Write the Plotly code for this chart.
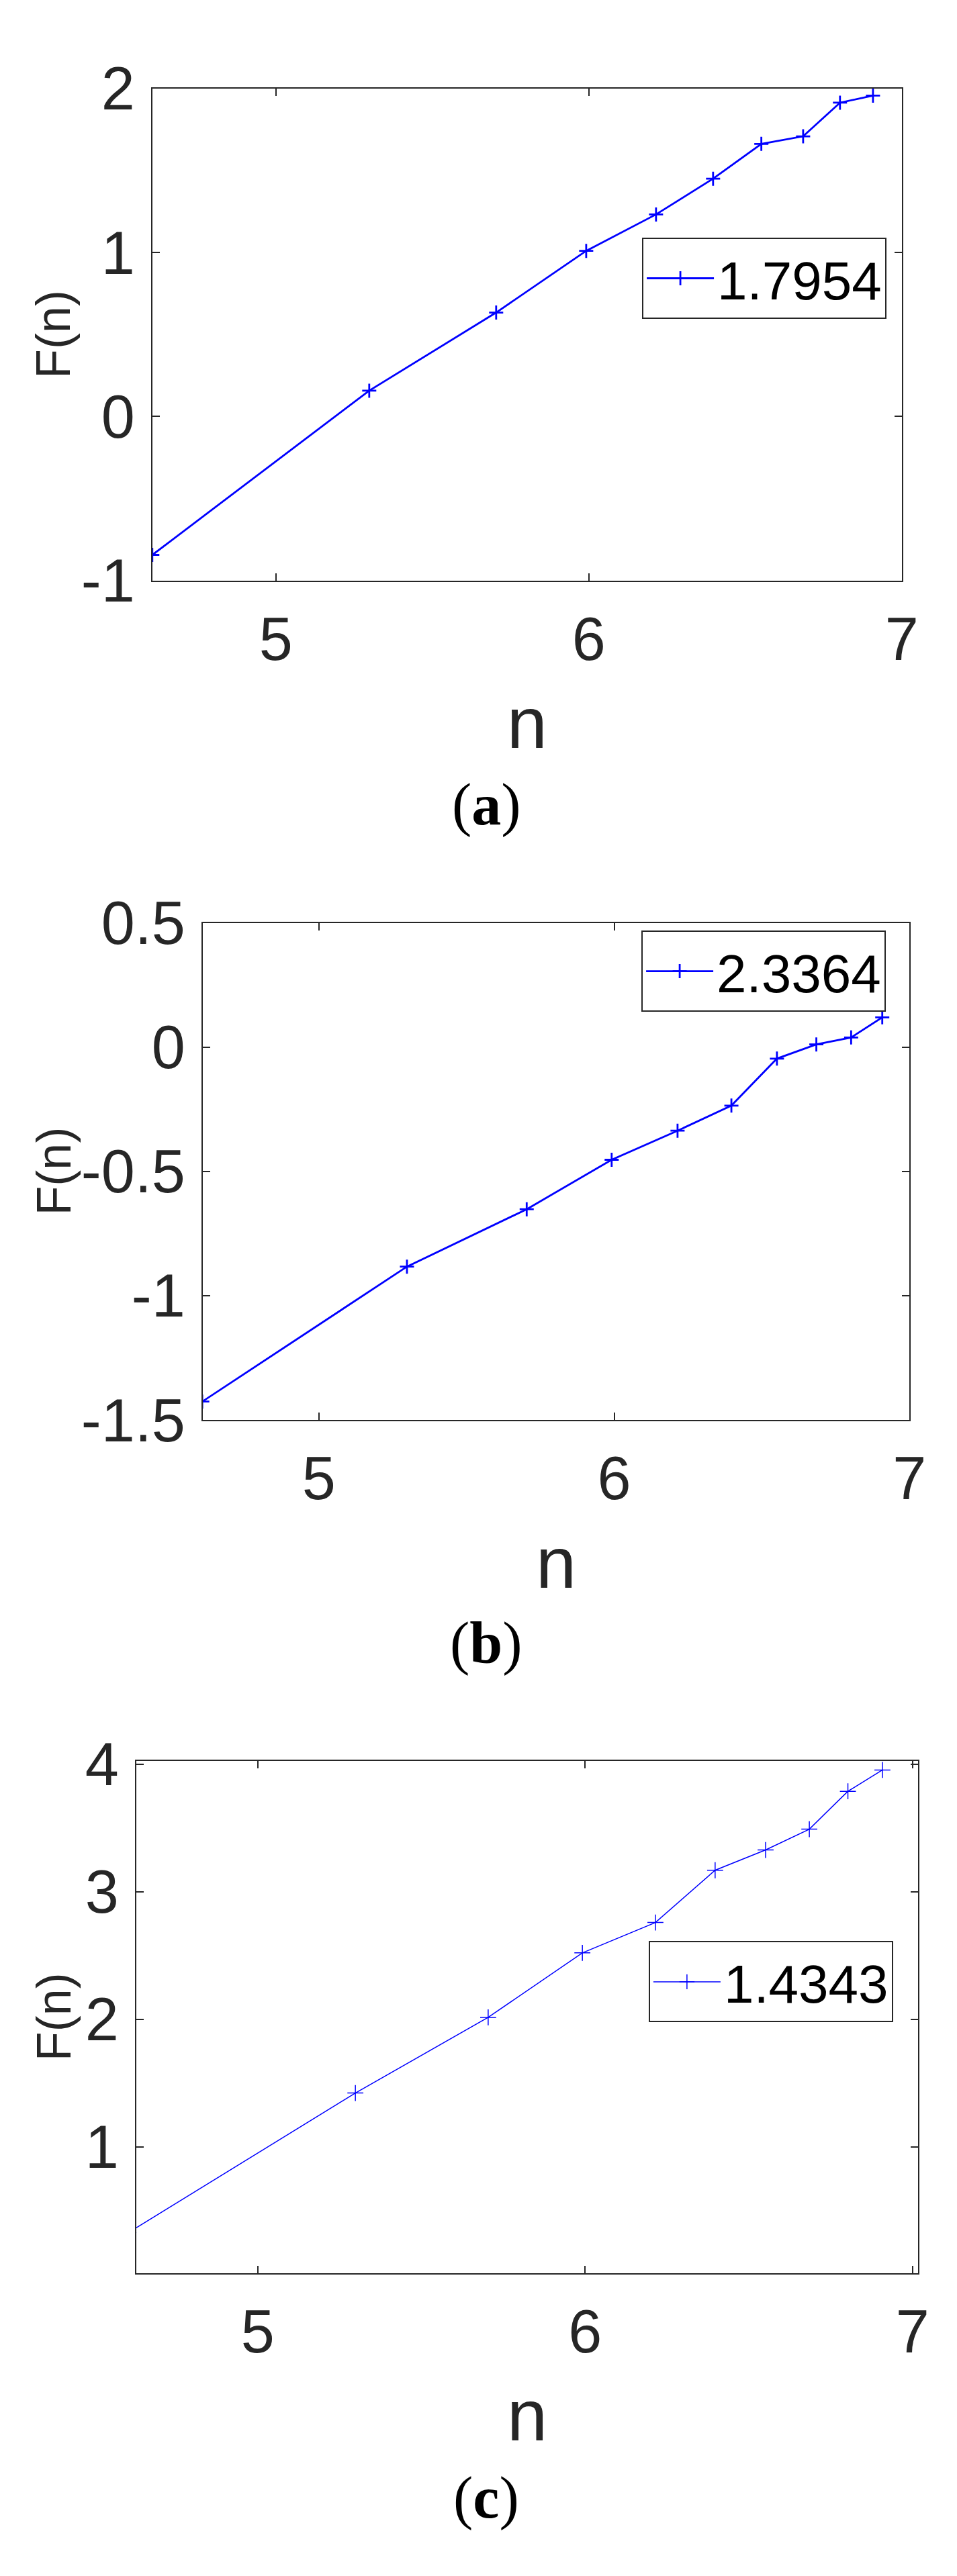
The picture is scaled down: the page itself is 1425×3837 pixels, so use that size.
import plotly.graph_objects as go

# x values are ln(n) for n = 100, 200, ..., 1000
log_n = [4.6052, 5.2983, 5.7038, 5.9915, 6.2146, 6.3969, 6.5511, 6.6846, 6.8024, 6.9078]

f_a = [-0.843, 0.158, 0.634, 1.010, 1.232, 1.450, 1.662, 1.708, 1.913, 1.956]
f_b = [-1.426, -0.883, -0.652, -0.453, -0.336, -0.235, -0.046, 0.011, 0.039, 0.120]
f_c = [0.327, 1.422, 2.015, 2.521, 2.759, 3.169, 3.328, 3.491, 3.788, 3.955]

names = ['1.7954', '2.3364', '1.4343']
captions = ['a', 'b', 'c']

W, H = 1425, 3837
AXC = '#262626'
SANS = 'Liberation Sans, Arial, sans-serif'


def px_x(p):
    return p / W


def px_y(p):
    return 1 - p / H


fig = go.Figure()

# panel boxes in pixels: left, right, top, bottom
boxes = [(222.7, 1358.7, 75.7, 828.7),
         (299.0, 1370.3, 1352.3, 2112.7),
         (198.3, 1383.7, 2634.7, 3417.7)]
xranges = [[4.6052, 7.0], [4.6065, 7.0], [4.629, 7.0175]]
yranges = [[-1, 2], [-1.5, 0.5], [0.01, 4.024]]
ytickvals = [[-1, 0, 1, 2], [-1.5, -1, -0.5, 0, 0.5], [1, 2, 3, 4]]
yticktext = [['-1', '0', '1', '2'], ['-1.5', '-1', '-0.5', '0', '0.5'], ['1', '2', '3', '4']]
legend_pos = [(965, 304), (964, 1364), (975, 2910)]
line_w = [2.8, 2.8, 1.5]
mark_size = [15, 15, 17]
caption_y = [1171, 2454, 3762]

series = [f_a, f_b, f_c]

for i in range(3):
    sfx = '' if i == 0 else str(i + 1)
    lg = 'legend' + sfx
    fig.add_trace(go.Scatter(
        x=log_n, y=series[i], mode='lines+markers', name=names[i],
        xaxis='x' + sfx, yaxis='y' + sfx, legend=lg,
        line=dict(color='#0000ff', width=line_w[i]),
        marker=dict(symbol='cross-thin', size=mark_size[i],
                    line=dict(color='#0000ff', width=line_w[i])),
    ))

    l, r, t, b = boxes[i]
    common = dict(showline=True, linecolor=AXC, linewidth=2, mirror='ticks',
                  ticks='inside', ticklen=11, tickwidth=1.5, tickcolor=AXC,
                  showgrid=False, zeroline=False,
                  tickfont=dict(family=SANS, size=90, color=AXC))
    fig.update_layout(**{
        'xaxis' + sfx: dict(domain=[px_x(l), px_x(r)], range=xranges[i],
                            anchor='y' + sfx, tickvals=[5, 6, 7],
                            ticklabelstandoff=8,
                            title=dict(text='n', standoff=38,
                                       font=dict(family=SANS, size=108, color=AXC)),
                            **common),
        'yaxis' + sfx: dict(domain=[px_y(b), px_y(t)], range=yranges[i],
                            anchor='x' + sfx, tickvals=ytickvals[i],
                            ticktext=yticktext[i], ticklabelstandoff=6,
                            **common),
        lg: dict(x=px_x(legend_pos[i][0]), y=px_y(legend_pos[i][1]),
                 xanchor='left', yanchor='top', bgcolor='white',
                 bordercolor=AXC, borderwidth=2, itemwidth=100,
                 font=dict(family=SANS, size=80, color='black')),
    })

    fig.add_annotation(text='F(n)', textangle=-90, xref='paper', yref='paper',
                       x=px_x(73), y=px_y((t + b) / 2), showarrow=False,
                       xanchor='center', yanchor='middle',
                       font=dict(family=SANS, size=72, color=AXC))
    fig.add_annotation(text='(<b>' + captions[i] + '</b>)', xref='paper', yref='paper',
                       x=px_x(729), y=px_y(caption_y[i]), showarrow=False,
                       xanchor='center', yanchor='middle',
                       font=dict(family='Liberation Serif, serif', size=88, color='black'))

fig.update_layout(width=W, height=H, margin=dict(l=0, r=0, t=0, b=0),
                  paper_bgcolor='white', plot_bgcolor='white', showlegend=True)

fig.write_html('out.html')
